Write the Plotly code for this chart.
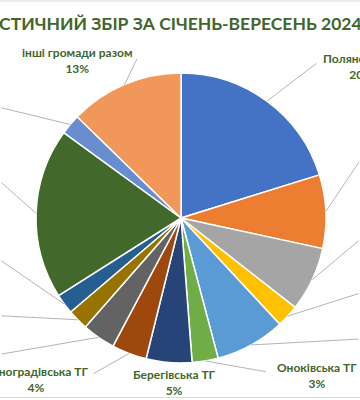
import math
import plotly.graph_objects as go

# ---- data (shares, %) ----
categories = [
    "Полянська ТГ", "ТГ 2", "ТГ 3", "ТГ 4", "ТГ 5", "Оноківська ТГ",
    "Берегівська ТГ", "Виноградівська ТГ", "ТГ 9", "ТГ 10", "ТГ 11",
    "ТГ 12", "ТГ 13", "інші громади разом",
]
values = [20.2, 8.2, 7.2, 2.5, 7.8, 2.9, 5.1, 3.9, 3.7, 2.3, 2.25, 19.0, 2.3, 12.7]
pct_labels = ["20%", "8%", "7%", "2%", "8%", "3%", "5%", "4%", "4%", "2%", "2%", "19%", "2%", "13%"]
colors = [
    "#4472C4", "#ED7D31", "#A5A5A5", "#FFC000", "#5B9BD5", "#70AD47",
    "#264478", "#9E480E", "#636363", "#997300", "#255E91", "#43682B",
    "#698ED0", "#F1975A",
]
title_text = "ТУРИСТИЧНИЙ ЗБІР ЗА СІЧЕНЬ-ВЕРЕСЕНЬ 2024"

# ---- layout geometry (pixels) ----
W, H = 360, 400
CX, CY, R = 181, 218, 145          # pie centre (from top) and radius
TXT = "#41662B"
FONT = "Lato"

# label text centres (px, from top) for labels in view
label_pos = {
    0: (361, 66),
    13: (77, 61),
    5: (317, 375),
    6: (174, 382),
    7: (36, 379),
}
# leader line start offsets (px) relative to slice edge midpoint
leader_off = {
    0: (51, -39),
    1: (50, -51),
    2: (60, -40),
    3: (90, -23),
    4: (130, -6),
    5: (62, 11),
    7: (-37, 21),
    8: (-120, 17),
    9: (-100, -4),
    10: (-90, -44),
    11: (-60, -32),
    12: (-90, -17),
    13: (13, -27),
}

fig = go.Figure(go.Pie(
    labels=categories,
    values=values,
    sort=False,
    direction="clockwise",
    rotation=0,
    marker=dict(colors=colors, line=dict(color="white", width=1.5)),
    textinfo="none",
    hoverinfo="label+percent",
    showlegend=False,
    domain=dict(x=[(CX - R) / W, (CX + R) / W],
                y=[(H - CY - R) / H, (H - CY + R) / H]),
))

annotations = []
total = sum(values)
cum = 0.0
for i, v in enumerate(values):
    theta = 2 * math.pi * (cum + v / 2) / total
    cum += v
    tx = CX + R * math.sin(theta)
    ty = CY - R * math.cos(theta)
    if i in leader_off:
        ax, ay = leader_off[i]
        annotations.append(dict(
            x=tx / W, y=(H - ty) / H, xref="paper", yref="paper",
            ax=ax, ay=ay, text="", showarrow=True, arrowhead=0,
            arrowwidth=1, arrowcolor="#B4B4B4", standoff=0,
        ))
    if i in label_pos:
        lx, ly = label_pos[i]
        annotations.append(dict(
            x=lx / W, y=(H - ly) / H, xref="paper", yref="paper",
            text=f"<b>{categories[i]}<br>{pct_labels[i]}</b>",
            showarrow=False, xanchor="center", yanchor="middle",
            align="center",
            font=dict(family=FONT, size=12, color=TXT),
        ))

annotations.append(dict(
    x=364 / W, y=(H - 23) / H, xref="paper", yref="paper",
    text=f"<b>{title_text}</b>", showarrow=False,
    xanchor="right", yanchor="middle",
    font=dict(family=FONT, size=17.5, color=TXT),
))

fig.update_layout(
    width=W, height=H,
    margin=dict(l=0, r=0, t=0, b=0),
    paper_bgcolor="white",
    plot_bgcolor="white",
    annotations=annotations,
    shapes=[
        dict(type="line", xref="paper", yref="paper", x0=0, x1=1,
             y0=(H - 1) / H, y1=(H - 1) / H, line=dict(color="#D9D9D9", width=1)),
        dict(type="line", xref="paper", yref="paper", x0=0, x1=1,
             y0=(H - 397.5) / H, y1=(H - 397.5) / H, line=dict(color="#D9D9D9", width=1)),
    ],
)

fig.write_html(
    "out.html",
    config={"displayModeBar": False},
    post_script="document.body.style.margin='0';document.body.style.overflow='hidden';",
)
